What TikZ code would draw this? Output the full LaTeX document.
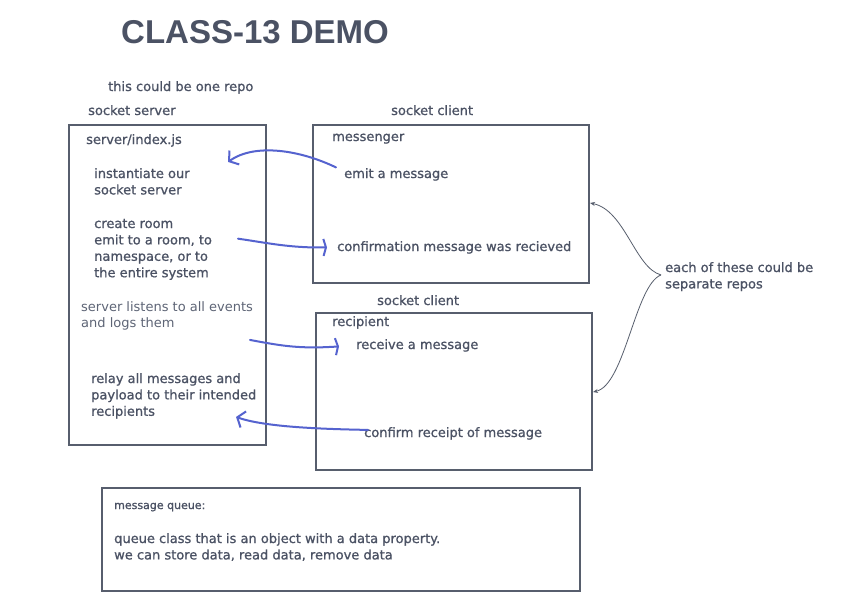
\documentclass[tikz,border=0pt]{standalone}
\usepackage{fontspec}
\setmainfont{DejaVu Sans}[RawFeature={embolden=0.9}]
\newfontfamily\plainfont{DejaVu Sans}
\newfontfamily\titlefont{Liberation Sans}
\usetikzlibrary{arrows.meta}
\definecolor{ink}{HTML}{4B5264}
\definecolor{inklight}{HTML}{5E6576}
\definecolor{frame}{HTML}{575E6D}
\definecolor{pen}{HTML}{5563CF}
\tikzset{
  txt/.style={anchor=base west, inner sep=0pt, text=ink, font=\fontsize{13}{16.4}\selectfont, align=left},
  box/.style={draw=frame, line width=2.4pt},
  penarrow/.style={draw=pen, line width=2pt, line cap=round, -{Straight Barb[length=6.5pt,width=17pt,line width=2pt]}},
  penbar/.style={draw=pen, line width=2pt, line cap=round, -{Straight Barb[length=2.5pt,width=17pt,line width=2pt]}},
  note/.style={draw=frame, line width=0.8pt, -{Stealth[length=5pt,width=4pt]}}
}
\begin{document}
\begin{tikzpicture}[x=1pt,y=-1pt]
\useasboundingbox[fill=white] (0,0) rectangle (853,610);
% boxes
\draw[box] (69,125) rectangle (266,445);
\draw[box] (313,125) rectangle (589,283);
\draw[box] (316,313) rectangle (592,470);
\draw[box] (102,488) rectangle (580,591);
\coordinate (msgR) at (590,203);
\coordinate (recR) at (593,392);
% title and headings
\node[anchor=base west, inner sep=0pt, text=ink, font=\titlefont\fontsize{33}{36}\selectfont\bfseries] (title) at (121,44) {CLASS-13 DEMO};
\node[txt] (onerepo) at (108,91) {this could be one repo};
\node[txt] (sserver) at (88,115) {socket server};
\node[txt] (sclient1) at (391,115) {socket client};
\node[txt] (sclient2) at (377,305) {socket client};
% server box texts (base = last line baseline)
\node[txt] (index) at (86,144) {server/index.js};
\node[txt] (inst) at (94,194.4) {instantiate our\\socket server};
\node[txt] (room) at (94,277.2) {create room\\emit to a room, to\\namespace, or to\\the entire system};
\node[txt, text=inklight, font=\plainfont\fontsize{13}{16.4}\selectfont] (listen) at (81,327.4) {server listens to all events\\and logs them};
\node[txt] (relay) at (91,415.8) {relay all messages and\\payload to their intended\\recipients};
% messenger
\node[txt] (messenger) at (332,141) {messenger};
\node[txt] (emit) at (344,178) {emit a message};
\node[txt] (confirm) at (337,251) {confirmation message was recieved};
% recipient
\node[txt] (recipient) at (332,326) {recipient};
\node[txt] (receive) at (356,349) {receive a message};
\node[txt] (confirmrec) at (364,437) {confirm receipt of message};
% side note
\node[txt] (each) at (665,288.4) {each of these could be\\separate repos};
% queue
\node[txt, font=\fontsize{11}{14}\selectfont] (mq) at (114,509) {message queue:};
\node[txt] (qc) at (114,559.4) {queue class that is an object with a data property.\\we can store data, read data, remove data};
% blue arrows
\draw[penarrow] ([xshift=-8pt,yshift=7pt]emit.west) .. controls (300,150) and (255,143) .. ([xshift=134pt,yshift=6pt]inst.north west);
\draw[penbar] ([xshift=144pt,yshift=-20pt]room.north west) .. controls (268,243) and (290,248) .. ([xshift=-10pt,yshift=0pt]confirm.west);
\draw[penbar] ([xshift=169pt,yshift=-39pt]listen.north west) .. controls (282,346) and (300,349) .. ([xshift=-17pt,yshift=-1pt]receive.west);
\draw[penarrow] ([xshift=4pt,yshift=3.5pt]confirmrec.west) .. controls (320,429) and (265,427) .. ([xshift=145pt,yshift=-44pt]relay.north west);
% note arrows
\draw[note] ([xshift=-4pt,yshift=-13pt]each.north west) .. controls (635,268) and (625,210) .. (msgR);
\draw[note] ([xshift=-4pt,yshift=-13pt]each.north west) .. controls (635,285) and (625,385) .. (recR);
\end{tikzpicture}
\end{document}
